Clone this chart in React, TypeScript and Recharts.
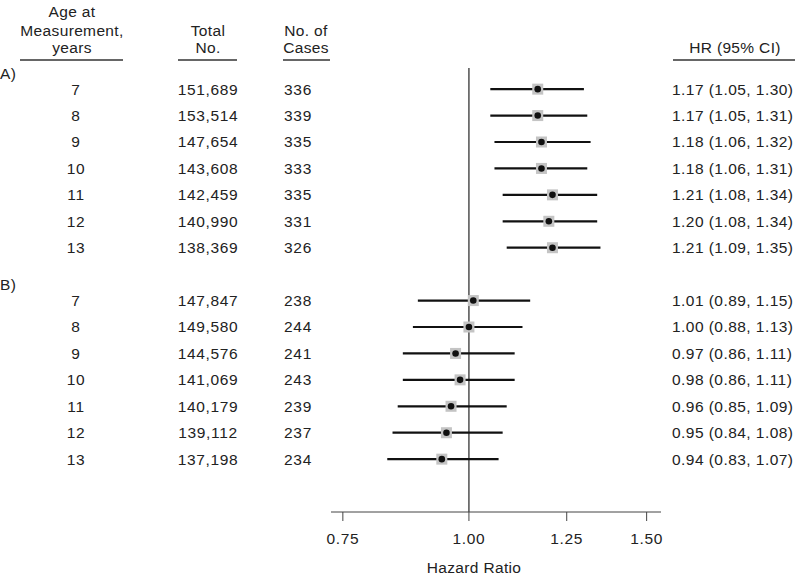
import { ComposedChart, ErrorBar, ReferenceLine, Scatter, XAxis, YAxis } from "recharts";

const ages = ["7", "8", "9", "10", "11", "12", "13"];

const totalA = ["151,689", "153,514", "147,654", "143,608", "142,459", "140,990", "138,369"];
const casesA = ["336", "339", "335", "333", "335", "331", "326"];
const hrA = [1.17, 1.17, 1.18, 1.18, 1.21, 1.2, 1.21];
const lowA = [1.05, 1.05, 1.06, 1.06, 1.08, 1.08, 1.09];
const highA = [1.3, 1.31, 1.32, 1.31, 1.34, 1.34, 1.35];

const totalB = ["147,847", "149,580", "144,576", "141,069", "140,179", "139,112", "137,198"];
const casesB = ["238", "244", "241", "243", "239", "237", "234"];
const hrB = [1.01, 1.0, 0.97, 0.98, 0.96, 0.95, 0.94];
const lowB = [0.89, 0.88, 0.86, 0.86, 0.85, 0.84, 0.83];
const highB = [1.15, 1.13, 1.11, 1.11, 1.09, 1.08, 1.07];

const hrTicks = [0.75, 1, 1.25, 1.5];

// row slots: group A on 0..6, group B on 8..14, group labels just above
const groupLabels = [
  { pos: -0.6, label: "A)" },
  { pos: 7.4, label: "B)" },
];

const fmt = (v: number) => v.toFixed(2);

const rows = [
  ...ages.map((age, i) => ({
    pos: i,
    age,
    total: totalA[i],
    cases: casesA[i],
    hr: hrA[i],
    lo: lowA[i],
    hi: highA[i],
  })),
  ...ages.map((age, i) => ({
    pos: i + 8,
    age,
    total: totalB[i],
    cases: casesB[i],
    hr: hrB[i],
    lo: lowB[i],
    hi: highB[i],
  })),
].map((r) => ({ ...r, err: [r.hr - r.lo, r.hi - r.hr] }));

const yTicks = [...groupLabels.map((g) => g.pos), ...rows.map((r) => r.pos)].sort((a, b) => a - b);

const FONT = "'Liberation Sans', Arial, Helvetica, sans-serif";
const TEXT = "#222";
const FS = 15.5;
const LS_NUM = 0.65; // the original type sets digits a bit wider than Arial
const LS_WORD = 0.35;

// one tick per table row: draws the text columns left of the plot and the HR column right of it
function RowTick(props: any) {
  const { y, payload } = props;
  const g = groupLabels.find((l) => Math.abs(l.pos - payload.value) < 1e-6);
  if (g) {
    return (
      <text x={0} y={y} dy="0.35em" fontSize={FS} fill={TEXT} fontFamily={FONT} letterSpacing={LS_WORD}>
        {g.label}
      </text>
    );
  }
  const r = rows.find((row) => row.pos === payload.value);
  if (!r) return null;
  return (
    <g fontSize={FS} fill={TEXT} fontFamily={FONT} letterSpacing={LS_NUM}>
      <text x={76} y={y} dy="0.35em" textAnchor="middle">{r.age}</text>
      <text x={208} y={y} dy="0.35em" textAnchor="middle">{r.total}</text>
      <text x={298} y={y} dy="0.35em" textAnchor="middle">{r.cases}</text>
      <text x={672} y={y} dy="0.35em" textAnchor="start" letterSpacing={0.45}>
        {`${fmt(r.hr)} (${fmt(r.lo)}, ${fmt(r.hi)})`}
      </text>
    </g>
  );
}

function Marker(props: any) {
  const { cx, cy } = props;
  if (cx == null || cy == null) return null;
  return (
    <g>
      <rect x={cx - 5.5} y={cy - 5.5} width={11} height={11} fill="#c4c4c4" />
      <circle cx={cx} cy={cy} r={3.3} fill="#111" />
    </g>
  );
}

export default function App() {
  return (
    <div style={{ position: "absolute", left: 0, top: 0, width: 795, height: 576, background: "#fff", fontFamily: FONT }}>
      <ComposedChart width={795} height={576} data={rows} margin={{ top: 68, right: 134, bottom: 0, left: 0 }}>
        <XAxis
          type="number"
          dataKey="hr"
          scale="log"
          domain={[0.73, 1.55]}
          allowDataOverflow
          ticks={hrTicks}
          tickFormatter={fmt}
          height={64}
          stroke="#444"
          tickSize={9}
          tickMargin={12}
          tick={{ fontSize: FS, fill: TEXT, fontFamily: FONT, letterSpacing: LS_NUM }}
        />
        <YAxis
          type="number"
          dataKey="pos"
          domain={[-0.8, 16]}
          reversed
          ticks={yTicks}
          interval={0}
          width={331}
          axisLine={false}
          tickLine={false}
          tick={<RowTick />}
        />
        <ReferenceLine x={1} stroke="#333" strokeWidth={1.3} />
        <Scatter data={rows} dataKey="pos" shape={<Marker />} isAnimationActive={false}>
          <ErrorBar dataKey="err" direction="x" width={0} stroke="#111" strokeWidth={2.2} />
        </Scatter>
        <g fontFamily={FONT} fontSize={FS} fill={TEXT} textAnchor="middle" letterSpacing={LS_WORD}>
          <text x={72} y={17}>Age at</text>
          <text x={72} y={36}>Measurement,</text>
          <text x={72} y={53}>years</text>
          <text x={208} y={36}>Total</text>
          <text x={208} y={53}>No.</text>
          <text x={306} y={36}>No. of</text>
          <text x={306} y={53}>Cases</text>
          <text x={735} y={53}>HR (95% CI)</text>
          <text x={474} y={573}>Hazard Ratio</text>
        </g>
        <g stroke="#666" strokeWidth={2}>
          <line x1={20} x2={123} y1={60} y2={60} />
          <line x1={178} x2={237} y1={60} y2={60} />
          <line x1={283} x2={330} y1={60} y2={60} />
          <line x1={673} x2={795} y1={60} y2={60} />
        </g>
      </ComposedChart>
    </div>
  );
}
